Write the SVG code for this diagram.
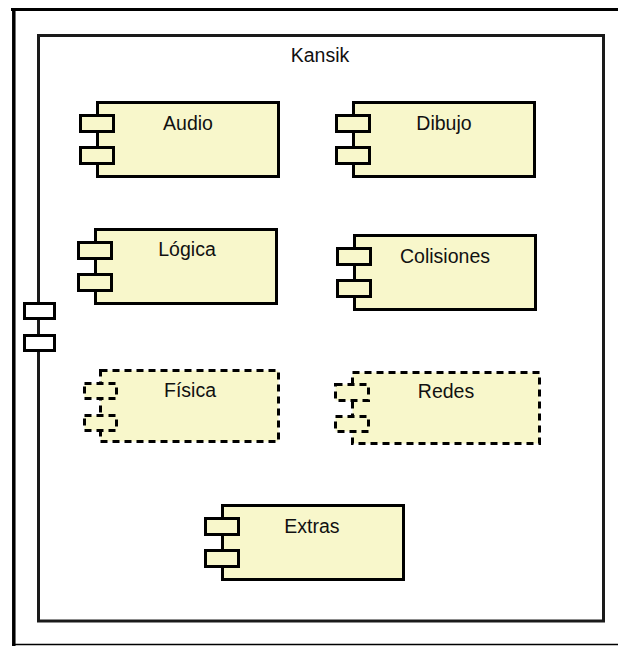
<svg xmlns="http://www.w3.org/2000/svg" width="618" height="646" viewBox="0 0 618 646">
<style>
.frame{fill:none;stroke:#000;}
.box{fill:#fff;stroke:#1a1a1a;stroke-width:3;}
.fport{fill:#fff;stroke:#000;stroke-width:3;}
.body{fill:#F8F7CB;stroke:#000;stroke-width:3;}
.dash{fill:#F8F7CB;stroke:#000;stroke-width:3;stroke-dasharray:7 5;}
.lbl{font-family:"Liberation Sans",Arial,sans-serif;font-size:19.5px;fill:#111;text-anchor:middle;}
</style>
<defs>
<g id="comp">
<rect class="body" x="1.5" y="1.5" width="181" height="74"/>
<rect class="body" x="-15.5" y="14.5" width="33" height="16"/>
<rect class="body" x="-15.5" y="46.5" width="33" height="16"/>
</g>
</defs>
<g id="outer-frame">
<line class="frame" x1="11" y1="9.5" x2="618" y2="9.5" stroke-width="3"/>
<line class="frame" x1="13.8" y1="8" x2="13.8" y2="646" stroke-width="3.5"/>
<line class="frame" x1="12" y1="644.5" x2="618" y2="644.5" stroke-width="1.5"/>
</g>
<g id="kansik">
<rect class="box" x="38.5" y="35.5" width="565" height="585.5"/>
<text class="lbl" x="320" y="62">Kansik</text>
<rect class="fport" x="24.5" y="303.5" width="30" height="15"/>
<rect class="fport" x="24.5" y="335.5" width="30" height="15"/>
</g>
<g id="audio">
<use href="#comp" x="96" y="101"/>
<text class="lbl" x="188" y="130">Audio</text>
</g>
<g id="dibujo">
<use href="#comp" x="352" y="101"/>
<text class="lbl" x="444" y="130">Dibujo</text>
</g>
<g id="logica">
<use href="#comp" x="94" y="228"/>
<text class="lbl" x="187" y="256">Lógica</text>
</g>
<g id="colisiones">
<use href="#comp" x="353" y="234"/>
<text class="lbl" x="445" y="263">Colisiones</text>
</g>
<g id="fisica">
<rect class="dash" x="100.5" y="370.5" width="178" height="71"/>
<rect class="dash" x="84.5" y="383.5" width="32" height="15"/>
<rect class="dash" x="84.5" y="415.5" width="32" height="15"/>
<text class="lbl" x="190" y="397">Física</text>
</g>
<g id="redes">
<rect class="dash" x="352.5" y="372.5" width="187" height="71"/>
<rect class="dash" x="335.5" y="384.5" width="33" height="16"/>
<rect class="dash" x="335.5" y="416.5" width="33" height="15"/>
<text class="lbl" x="446" y="398">Redes</text>
</g>
<g id="extras">
<use href="#comp" x="221" y="504"/>
<text class="lbl" x="312" y="533">Extras</text>
</g>
</svg>
